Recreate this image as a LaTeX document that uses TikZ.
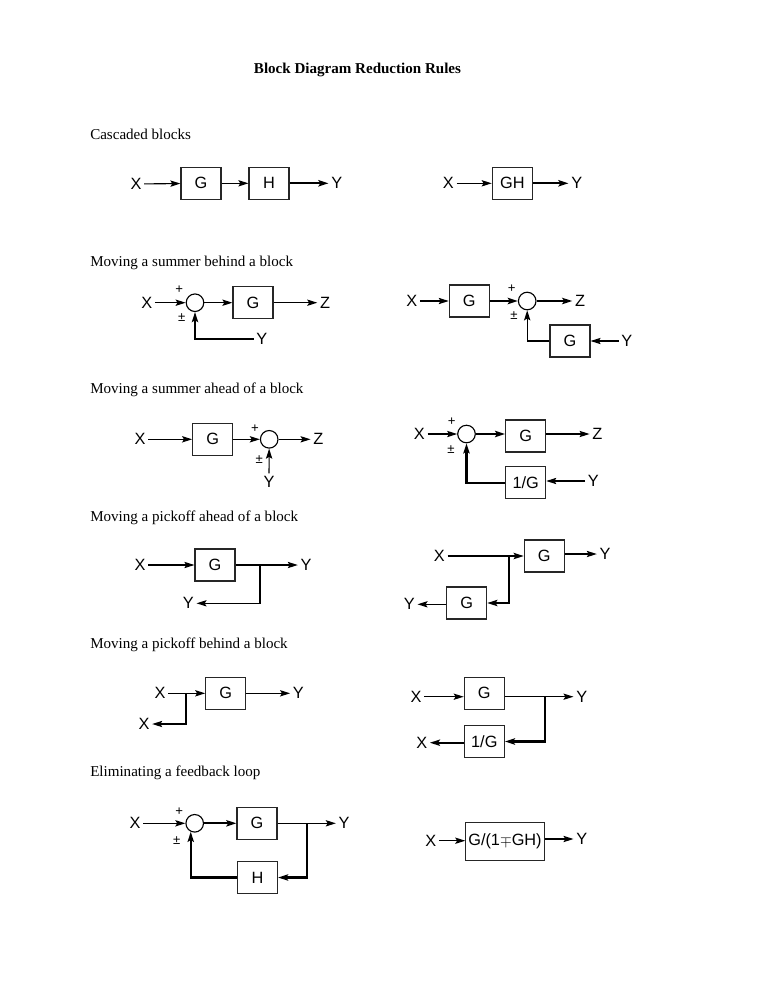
\documentclass[tikz,border=0pt]{standalone}
\usepackage{fontspec}
\setmainfont{Liberation Serif}
\setsansfont{Liberation Sans}
\usetikzlibrary{arrows.meta}
\tikzset{
    lbl/.style = {font=\sffamily\fontsize{13}{15}\selectfont, inner sep=2pt},
    sgn/.style = {font=\sffamily\fontsize{10.5}{12}\selectfont, inner sep=0pt},
    block/.style = {lbl, rectangle, draw=black!85, line width=0.9pt, minimum width=31.9pt, minimum height=25.5pt},
    summer/.style = {circle, draw=black, line width=0.9pt, minimum size=14pt, inner sep=0pt},
    heading/.style = {anchor=base west, inner sep=0pt, font=\fontsize{12}{14}\selectfont},
    sig/.style = {->, line width=0.9pt},
    thicksig/.style = {->, line width=1.7pt}
}
\begin{document}
\begin{tikzpicture}
    [x=0.797pt, y=-0.797pt, >={Stealth[length=8pt, width=5pt, inset=1.5pt]}]
    \useasboundingbox (0,0) rectangle (768,994);

    \node [anchor=base, inner sep=0pt, font=\bfseries\fontsize{12}{14}\selectfont] (title) at (357.5,73.3) {Block Diagram Reduction Rules};

    % cascaded blocks
    \node [heading] (h1) at (90,139.5) {Cascaded blocks};
    \node [lbl] (x1) at (136,184) {X};
    \node [block] (g1) at (201,183.3) {G};
    \node [block] (hh1) at (269,183.3) {H};
    \node [lbl] (y1) at (336.7,183.3) {Y};
    \draw [sig] (x1) -- (g1);
    \draw [sig] (g1) -- (hh1);
    \draw [thicksig] (hh1) -- (y1);

    \node [lbl] (x1r) at (448.3,183.3) {X};
    \node [block] (gh1) at (512.3,183.3) {GH};
    \node [lbl] (y1r) at (576.7,183.3) {Y};
    \draw [sig] (x1r) -- (gh1);
    \draw [thicksig] (gh1) -- (y1r);

    % summer behind a block
    \node [heading] (h2) at (90,266.5) {Moving a summer behind a block};
    \node [lbl] (x2) at (146.7,302.7) {X};
    \node [summer] (s2) at (195,302.7) {};
    \node [block] (g2) at (253,302.7) {G};
    \node [lbl] (z2) at (325,302.7) {Z};
    \node [lbl] (y2) at (261.7,339.3) {Y};
    \node [sgn] (p2) at (179.3,290) {+};
    \node [sgn] (pm2) at (181.7,317.3) {±};
    \draw [sig] (x2) -- (s2);
    \draw [sig] (s2) -- (g2);
    \draw [sig] (g2) -- (z2);
    \draw [thicksig] (y2.west) -| (s2.south);

    \node [lbl] (x2r) at (411.7,301) {X};
    \node [block] (g2r) at (469.3,301) {G};
    \node [summer] (s2r) at (527.2,301) {};
    \node [lbl] (z2r) at (580,301) {Z};
    \node [block] (gg2r) at (570,341) {G};
    \node [lbl] (y2r) at (626.7,341) {Y};
    \node [sgn] (p2r) at (511.7,288.3) {+};
    \node [sgn] (pm2r) at (514,316) {±};
    \draw [sig] (x2r) -- (g2r);
    \draw [thicksig] (g2r) -- (s2r);
    \draw [thicksig] (s2r) -- (z2r);
    \draw [sig] (y2r) -- (gg2r);
    \draw [sig] (gg2r.west) -| (s2r.south);

    % summer ahead of a block
    \node [heading] (h3) at (90,393) {Moving a summer ahead of a block};
    \node [lbl] (x3) at (140,439.3) {X};
    \node [block] (g3) at (212.7,439.3) {G};
    \node [summer] (s3) at (269.2,439.3) {};
    \node [lbl] (z3) at (318.3,439.3) {Z};
    \node [lbl] (y3) at (269,481.7) {Y};
    \node [sgn] (p3) at (255,428.3) {+};
    \node [sgn] (pm3) at (259.3,459.3) {±};
    \draw [sig] (x3) -- (g3);
    \draw [sig] (g3) -- (s3);
    \draw [sig] (s3) -- (z3);
    \draw [sig] (y3) -- (s3);

    \node [lbl] (x3r) at (419.3,434) {X};
    \node [summer] (s3r) at (466.5,434) {};
    \node [block] (g3r) at (525.7,436) {G};
    \node [lbl] (z3r) at (597.3,434) {Z};
    \node [block] (ig3r) at (525.7,482.8) {1/G};
    \node [lbl] (y3r) at (593.3,481) {Y};
    \node [sgn] (p3r) at (451.7,421.7) {+};
    \node [sgn] (pm3r) at (451,450) {±};
    \draw [sig] (x3r) -- (s3r);
    \draw [thicksig] (s3r) -- (s3r -| g3r.west);
    \draw [sig] (g3r.east |- z3r) -- (z3r);
    \draw [sig] (y3r) -- (y3r -| ig3r.east);
    \draw [thicksig] (ig3r.west) -| (s3r.south);

    % pickoff ahead of a block
    \node [heading] (h4) at (90,521.4) {Moving a pickoff ahead of a block};
    \node [lbl] (x4) at (140,565) {X};
    \node [block] (g4) at (215,565) {G};
    \node [lbl] (y4) at (306,565) {Y};
    \node [lbl] (y4b) at (188.3,603.3) {Y};
    \coordinate (pk4) at (260,565);
    \draw [sig] (x4) -- (g4);
    \draw [sig] (g4) -- (y4);
    \draw [sig] (pk4) |- (y4b.east);

    \node [lbl] (x4r) at (439.3,556) {X};
    \node [block] (g4r) at (544.3,556) {G};
    \node [lbl] (y4r) at (605,554) {Y};
    \node [block] (gg4r) at (466.7,603) {G};
    \node [lbl] (y4br) at (409.3,604.3) {Y};
    \coordinate (pk4r) at (509.3,556);
    \draw [thicksig] (x4r) -- (g4r);
    \draw [sig] (g4r.east |- y4r) -- (y4r);
    \draw [thicksig] (pk4r) |- (gg4r.east);
    \draw [sig] (gg4r.west |- y4br) -- (y4br);

    % pickoff behind a block
    \node [heading] (h5) at (90,648.7) {Moving a pickoff behind a block};
    \node [lbl] (x5) at (160,693.3) {X};
    \node [block] (g5) at (225.8,693.3) {G};
    \node [lbl] (y5) at (298.3,693.3) {Y};
    \node [lbl] (x5b) at (144,724) {X};
    \coordinate (pk5) at (186,693.3);
    \draw [sig] (x5) -- (g5);
    \draw [sig] (g5) -- (y5);
    \draw [sig] (pk5) |- (x5b.east);

    \node [lbl] (x5r) at (416,696.7) {X};
    \node [block] (g5r) at (484.3,693.3) {G};
    \node [lbl] (y5r) at (581.7,696.7) {Y};
    \node [block] (ig5r) at (484.3,741.5) {1/G};
    \node [lbl] (x5br) at (421.7,742.7) {X};
    \coordinate (pk5r) at (545,696.7);
    \draw [sig] (x5r) -- (x5r -| g5r.west);
    \draw [sig] (g5r.east |- y5r) -- (y5r);
    \draw [thicksig] (pk5r) |- (ig5r.east);
    \draw [thicksig] (ig5r.west |- x5br) -- (x5br);

    % feedback loop
    \node [heading] (h6) at (90,776.4) {Eliminating a feedback loop};
    \node [lbl] (x6) at (135,823.3) {X};
    \node [summer] (s6) at (194.7,823.3) {};
    \node [block] (g6) at (257,823.3) {G};
    \node [lbl] (y6) at (344,823.3) {Y};
    \node [block] (hh6) at (257.5,877.5) {H};
    \node [sgn] (p6) at (179.3,811.7) {+};
    \node [sgn] (pm6) at (176.7,840.7) {±};
    \coordinate (pk6) at (306.7,823.3);
    \draw [sig] (x6) -- (s6);
    \draw [thicksig] (s6) -- (g6);
    \draw [sig] (g6) -- (y6);
    \draw [thicksig] (pk6) |- (hh6.east);
    \draw [thicksig] (hh6.west) -| (s6.245);

    \node [lbl] (x6r) at (430.7,840.7) {X};
    \node [block, minimum width=60pt, minimum height=29.8pt] (gf6r) at (505,841.5) {G/(1$\mp$GH)};
    \node [lbl] (y6r) at (581.7,839) {Y};
    \draw [sig] (x6r) -- (x6r -| gf6r.west);
    \draw [sig] (gf6r.east |- y6r) -- (y6r);
\end{tikzpicture}
\end{document}
